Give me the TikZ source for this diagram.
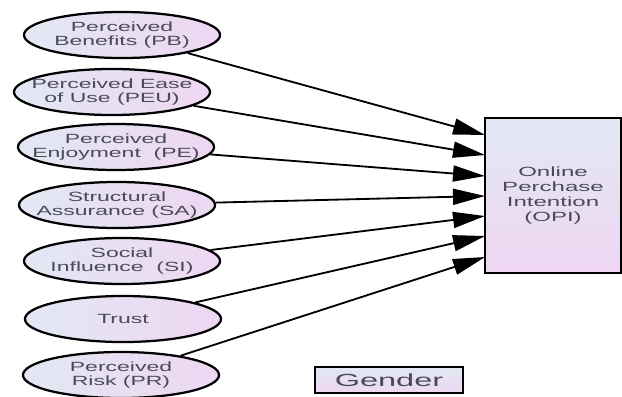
\documentclass[tikz,border=0pt]{standalone}
\usepackage{fontspec}
\setmainfont[FakeStretch=1.72]{Liberation Sans}
\newfontfamily\widefont[FakeStretch=1.8]{Liberation Sans}
\newfontfamily\genfont[FakeStretch=1.85]{Liberation Sans}
\usepackage{tikz}
\usetikzlibrary{arrows.meta}
\usetikzlibrary{shapes.geometric}
\definecolor{txtgray}{RGB}{75,75,88}
\definecolor{lblue}{RGB}{226,232,243}
\definecolor{lpink}{RGB}{238,214,242}

\begin{document}
\begin{tikzpicture}[x=0.025cm,y=-0.025cm]
\tikzset{>={Triangle[width=4mm,length=8mm]}}
\tikzstyle{construct} =[ellipse, draw = black, line width=1.6pt, left color=lblue, right color=lpink, inner xsep=-12pt, inner ysep=0pt, minimum width=4.9cm, minimum height=1.15cm, align=center, text=txtgray, font=\fontsize{9.5}{10}\selectfont]
\tikzstyle{target} =[rectangle, draw = black, line width=1.6pt, top color=lblue, bottom color=lpink, inner sep=0pt, align=center, text=txtgray, font=\widefont\fontsize{9.5}{10.8}\selectfont]

\useasboundingbox (0,0) rectangle (622,396);

\node[construct](pb) at (122,35){Perceived\\Benefits (PB)};
\node[construct](peu) at (112,92){Perceived Ease\\of Use (PEU)};
\node[construct](pe) at (116,147){Perceived\\Enjoyment~~(PE)};
\node[construct](sa) at (117,205){Structural\\Assurance (SA)};
\node[construct](si) at (122,261){Social\\Influence~~(SI)};
\node[construct](tr) at (123,319){Trust};
\node[construct](pr) at (121,375){Perceived\\Risk (PR)};

\node[target,minimum width=3.4cm,minimum height=3.875cm](opi) at (553,195.5){Online\\Perchase\\Intention\\(OPI)};
\node[target,minimum width=3.7cm,minimum height=0.65cm,font=\genfont\fontsize{12.5}{13}\selectfont](gen) at (389,380){Gender};

% arrow ends on the left side of the box
\coordinate (e1) at (485,135);
\coordinate (e2) at (485,155);
\coordinate (e3) at (485,176);
\coordinate (e4) at (485,196);
\coordinate (e5) at (485,216);
\coordinate (e6) at (485,236);
\coordinate (e7) at (485,257);

\draw [->,line width=1.3pt] (pb) to (e1);
\draw [->,line width=1.3pt] (peu) to (e2);
\draw [->,line width=1.3pt] (pe) to (e3);
\draw [->,line width=1.3pt] (sa) to (e4);
\draw [->,line width=1.3pt] (si) to (e5);
\draw [->,line width=1.3pt] (tr) to (e6);
\draw [->,line width=1.3pt] (pr) to (e7);
\end{tikzpicture}
\end{document}
